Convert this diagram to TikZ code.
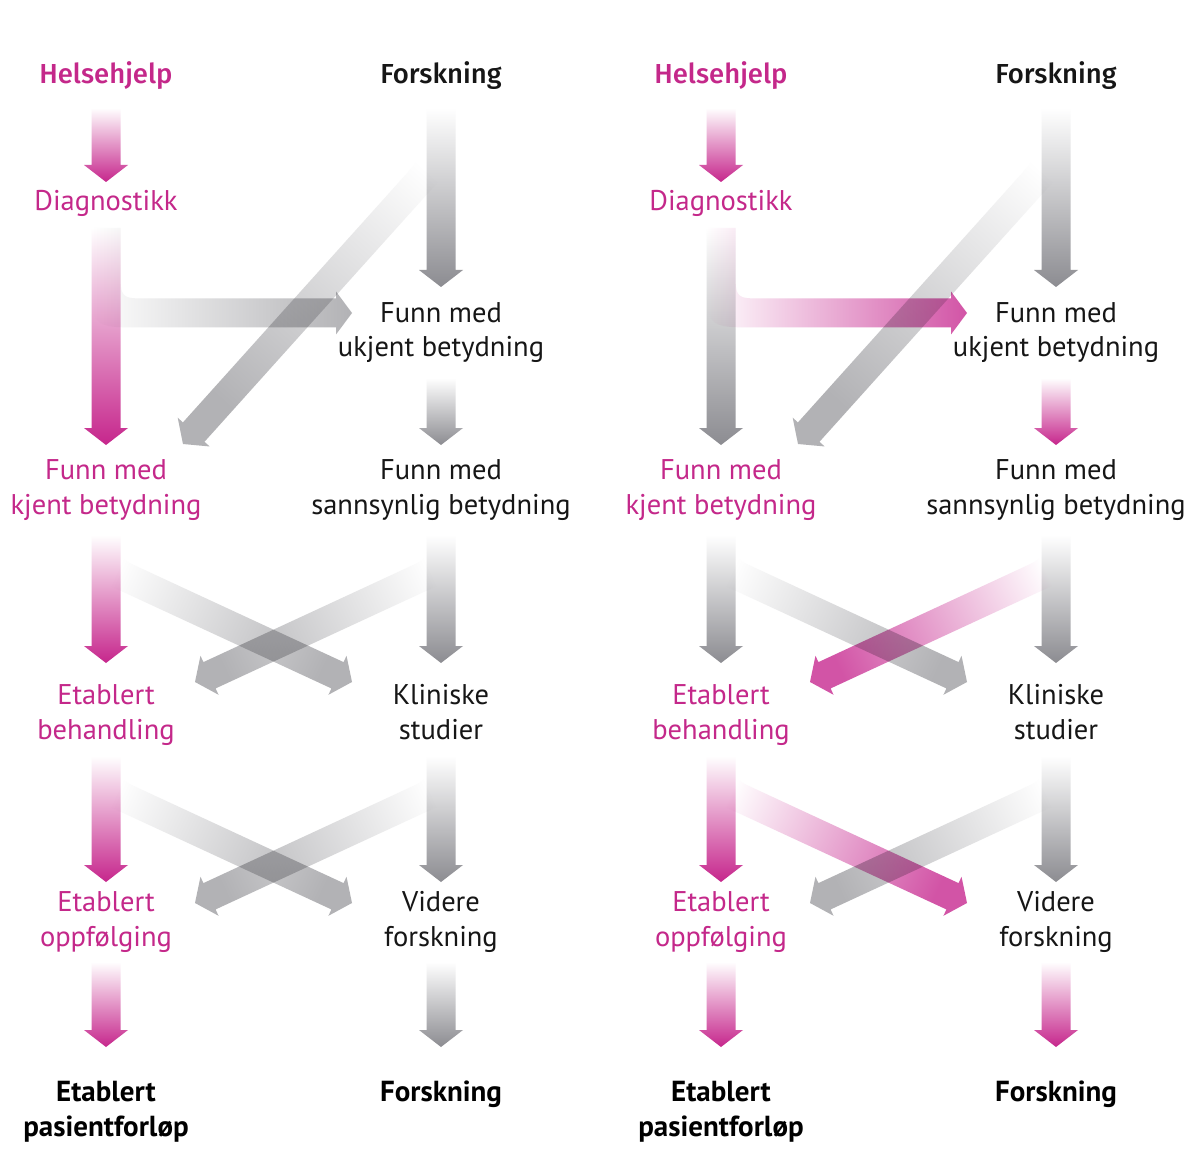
\documentclass[tikz,border=0pt]{standalone}
\usepackage{fontspec}
\setmainfont{PT Sans}
\newfontfamily\hdfont{Fira Sans Medium}
\usetikzlibrary{calc}
\definecolor{mag}{RGB}{198,38,140}
\definecolor{magd}{RGB}{210,84,166}
\definecolor{gry}{RGB}{140,140,145}
\definecolor{gryd}{RGB}{178,178,181}
\definecolor{magtext}{RGB}{196,40,138}
\definecolor{txt}{RGB}{22,22,22}

\tikzset{
 arr/.style={blend mode=multiply},
 lbl/.style={font=\fontsize{28.5}{35}\selectfont, align=center, inner sep=0pt, text=txt, anchor=base},
 mlbl/.style={lbl, text=magtext},
 hd/.style={font=\fontsize{27.5}{35}\selectfont\hdfont, inner sep=0pt, anchor=base},
 ft/.style={font=\fontsize{29}{35}\selectfont\bfseries, align=center, inner sep=0pt, text=black, anchor=base},
}

% vertical arrow: colour, x, ytop, ytip (pixel coordinates, y downwards)
\newcommand\varrow[4]{%
 \shade[arr, top color=white, bottom color=#1]
  (#2-14.5,-#3) -- (#2+14.5,-#3) -- (#2+14.5,-#4+17) -- (#2+22,-#4+17) -- (#2,-#4)
  -- (#2-22,-#4+17) -- (#2-14.5,-#4+17) -- cycle;}

% bent arrow: colour, shading angle, Sx, Sy, Cy, Tx, Ty, left rounding, right rounding
\newcommand\barrow[9]{%
 \coordinate (bC) at (#3,-#5);
 \coordinate (bT) at (#6,-#7);
 \coordinate (vLa) at (#3+14.5,-#4);
 \coordinate (vLb) at (#3+14.5,-#5);
 \coordinate (vRa) at (#3-14.5,-#4);
 \coordinate (vRb) at (#3-14.5,-#5);
 \coordinate (bB) at ($(bT)!16pt!(bC)$);
 \coordinate (sL) at ($(bB)!14.5pt!90:(bT)$);
 \coordinate (sR) at ($(bB)!14.5pt!-90:(bT)$);
 \coordinate (hL) at ($(bB)!21.5pt!90:(bT)$);
 \coordinate (hR) at ($(bB)!21.5pt!-90:(bT)$);
 \coordinate (cL) at ($(bC)!14.5pt!90:(bT)$);
 \coordinate (cR) at ($(bC)!14.5pt!-90:(bT)$);
 \coordinate (kL) at (intersection of vLa--vLb and cL--sL);
 \coordinate (kR) at (intersection of vRa--vRb and cR--sR);
 \shade[arr, top color=white, bottom color=#1, shading angle=#2]
   (vLa) -- ($(kL)!#8pt!(vLa)$) .. controls (kL) .. ($(kL)!#8pt!(sL)$) -- (sL) -- (hL) -- (bT)
   -- (hR) -- (sR) -- ($(kR)!#9pt!(sR)$) .. controls (kR) .. ($(kR)!#9pt!(vRa)$) -- (vRa) -- cycle;}

\begin{document}
\begin{tikzpicture}[x=1pt,y=1pt]
\fill[white] (0,0) rectangle (1200,-1166);
\useasboundingbox (0,0) rectangle (1200,-1166);

% ---------------- left panel ----------------
\varrow{mag}{106}{108}{182}
\varrow{gry}{441}{108}{287}
\barrow{gryd}{-42}{441}{110}{157}{183}{444}{46}{34}
\varrow{mag}{106}{228}{445}
\barrow{gryd}{90}{106}{228}{313}{352}{313}{28}{52}
\varrow{gry}{441}{378}{445}
\varrow{mag}{106}{535}{663}
\varrow{gry}{441}{535}{663}
\barrow{gryd}{65}{106}{535}{568}{352}{682}{18}{34}
\barrow{gryd}{-65}{441}{535}{568}{195}{682}{34}{18}
\varrow{mag}{106}{756}{882}
\varrow{gry}{441}{756}{882}
\barrow{gryd}{65}{106}{756}{789}{352}{903}{18}{34}
\barrow{gryd}{-65}{441}{756}{789}{195}{903}{34}{18}
\varrow{mag}{106}{962}{1047}
\varrow{gry}{441}{962}{1047}

% ---------------- right panel ----------------
\varrow{mag}{721}{108}{182}
\varrow{gry}{1056}{108}{287}
\barrow{gryd}{-42}{1056}{110}{157}{798}{444}{46}{34}
\varrow{gry}{721}{228}{445}
\barrow{magd}{90}{721}{228}{313}{967}{313}{28}{52}
\varrow{mag}{1056}{378}{445}
\varrow{gry}{721}{535}{663}
\varrow{gry}{1056}{535}{663}
\barrow{gryd}{65}{721}{535}{568}{967}{682}{18}{34}
\barrow{magd}{-65}{1056}{535}{568}{810}{682}{34}{18}
\varrow{mag}{721}{756}{882}
\varrow{gry}{1056}{756}{882}
\barrow{magd}{65}{721}{756}{789}{967}{903}{18}{34}
\barrow{gryd}{-65}{1056}{756}{789}{810}{903}{34}{18}
\varrow{mag}{721}{962}{1047}
\varrow{mag}{1056}{962}{1047}

% ---------------- labels (base anchor = last line's baseline) ----------------
\foreach \p/\a/\b in {1/106/441, 2/721/1056}{
 \node[hd, text=magtext] (hh\p) at (\a,-84) {Helsehjelp};
 \node[hd, text=txt] (fo\p) at (\b,-84) {Forskning};
 \node[mlbl] (di\p) at (\a,-211) {Diagnostikk};
 \node[lbl] (uk\p) at (\b,-357) {Funn med\\ukjent betydning};
 \node[mlbl] (kj\p) at (\a,-514) {Funn med\\kjent betydning};
 \node[lbl] (sa\p) at (\b,-514) {Funn med\\sannsynlig betydning};
 \node[mlbl] (eb\p) at (\a,-739) {Etablert\\behandling};
 \node[lbl] (kl\p) at (\b,-739) {Kliniske\\studier};
 \node[mlbl] (eo\p) at (\a,-946) {Etablert\\oppfølging};
 \node[lbl] (vf\p) at (\b,-946) {Videre\\forskning};
 \node[ft] (ep\p) at (\a,-1136) {Etablert\\pasientforløp};
 \node[ft] (fe\p) at (\b,-1101) {Forskning};
}
\end{tikzpicture}
\end{document}
